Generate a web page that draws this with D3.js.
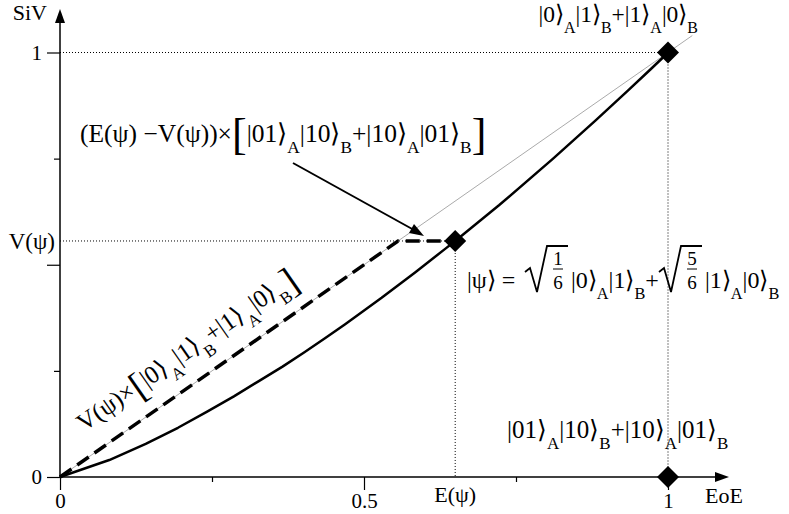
<!DOCTYPE html>
<html><head><meta charset="utf-8">
<script src="https://cdn.jsdelivr.net/npm/d3@7"></script>
<style>html,body{margin:0;padding:0;background:#fff;}svg{display:block;}</style>
</head><body>
<svg id="chart" width="789" height="514"></svg>
<script>
// ---- data ----
const curveX = [0, 0.081, 0.141, 0.194, 0.242, 0.286, 0.327, 0.366, 0.402, 0.437, 0.469, 0.529, 0.584, 0.634, 0.650, 0.722, 0.811, 0.881, 0.934, 0.971, 0.993, 1];
const curveY = [0, 0.040, 0.078, 0.116, 0.154, 0.190, 0.226, 0.260, 0.294, 0.328, 0.360, 0.422, 0.482, 0.538, 0.556, 0.640, 0.750, 0.840, 0.910, 0.960, 0.990, 1];
const stateE = 0.65;
const stateV = 0.556;
const dashedX = [0, stateV, stateE];
const dashedY = [0, stateV, stateV];
const diamondX = [1, stateE, 1];
const diamondY = [1, stateV, 0];
const xMajorTicks = [0, 0.5, 1];
const xMinorTicks = [0.25, 0.75];
const xTickLabels = ["0", "0.5", "1"];
const yMajorTicks = [0, 0.5, 1];
const yMinorTicks = [0.25, 0.75];
const yTickLabels = ["0", "", "1"];

const FONT = "Liberation Serif, Times New Roman, Times, serif";
const svg = d3.select("#chart");
const x = d3.scaleLinear().domain([0, 1]).range([60, 668]);
const y = d3.scaleLinear().domain([0, 1]).range([477, 52.5]);

// diagonal reference line (thin gray)
svg.append("line").attr("x1", x(0)).attr("y1", y(0)).attr("x2", x(1.04)).attr("y2", y(1.04))
  .attr("stroke", "#aaa").attr("stroke-width", 1);

// dotted guide lines
const dot = (x1, y1, x2, y2) => svg.append("line").attr("x1", x1).attr("y1", y1).attr("x2", x2).attr("y2", y2)
  .attr("stroke", "#000").attr("stroke-width", 1).attr("stroke-dasharray", "1,2");
dot(x(0), y(1), x(1), y(1));
dot(x(0), y(stateV), x(stateE), y(stateV));
dot(x(stateE), y(stateV), x(stateE), y(0));
dot(x(1), y(1), x(1), y(0));

// axes
svg.append("g").attr("transform", `translate(0,${y(0)})`)
  .call(d3.axisBottom(x).tickValues(xMajorTicks).tickSize(13).tickPadding(3)
    .tickFormat((d, i) => xTickLabels[i]));
svg.append("g").attr("transform", `translate(0,${y(0)})`)
  .call(d3.axisBottom(x).tickValues(xMinorTicks).tickSize(5).tickFormat(""));
svg.append("g").attr("transform", `translate(${x(0)},0)`)
  .call(d3.axisLeft(y).tickValues(yMajorTicks).tickSize(13).tickPadding(5)
    .tickFormat((d, i) => yTickLabels[i]));
svg.append("g").attr("transform", `translate(${x(0)},0)`)
  .call(d3.axisLeft(y).tickValues(yMinorTicks).tickSize(6).tickFormat(""));
svg.selectAll(".domain").remove();
svg.selectAll(".tick line").attr("stroke", "#000").attr("stroke-width", 1.2);
svg.selectAll("g").attr("font-family", FONT);
svg.selectAll(".tick text").attr("font-family", FONT).attr("font-size", 21).attr("fill", "#000");

// axis lines with arrows
svg.append("line").attr("x1", x(0)).attr("y1", y(0)).attr("x2", 718).attr("y2", y(0)).attr("stroke", "#000").attr("stroke-width", 1.5);
svg.append("path").attr("d", `M729,${y(0)} L715,${y(0) - 5} L715,${y(0) + 5} Z`).attr("fill", "#000");
svg.append("line").attr("x1", x(0)).attr("y1", y(0)).attr("x2", x(0)).attr("y2", 20).attr("stroke", "#000").attr("stroke-width", 1.5);
svg.append("path").attr("d", `M${x(0)},9 L${x(0) - 5},23 L${x(0) + 5},23 Z`).attr("fill", "#000");

// curve
const line = d3.line().x(d => x(d[0])).y(d => y(d[1]));
svg.append("path").datum(curveX.map((v, i) => [v, curveY[i]])).attr("d", line)
  .attr("fill", "none").attr("stroke", "#000").attr("stroke-width", 2.5).attr("stroke-linejoin", "round");
// dashed path
svg.append("path").datum(dashedX.map((v, i) => [v, dashedY[i]])).attr("d", line)
  .attr("fill", "none").attr("stroke", "#000").attr("stroke-width", 3.5).attr("stroke-dasharray", "14,7");

// diamonds
svg.selectAll(".dia").data(diamondX.map((v, i) => [v, diamondY[i]])).enter().append("path")
  .attr("d", d => `M${x(d[0])},${y(d[1]) - 11} L${x(d[0]) + 11},${y(d[1])} L${x(d[0])},${y(d[1]) + 11} L${x(d[0]) - 11},${y(d[1])} Z`)
  .attr("fill", "#000");

// arrow annotation
svg.append("line").attr("x1", 293).attr("y1", 163).attr("x2", 414).attr("y2", 230).attr("stroke", "#000").attr("stroke-width", 2);
svg.append("path").attr("d", "M424,236 L409,233 L414,224 Z").attr("fill", "#000");

// plain labels
const txt = (s, px, py, anchor, size) => svg.append("text").attr("x", px).attr("y", py)
  .attr("text-anchor", anchor || "start").attr("font-family", FONT).attr("font-size", size || 22).text(s);
txt("SiV", 47, 20, "end");
txt("V(ψ)", 55, 249, "end", 23);
txt("E(ψ)", x(stateE), 502, "middle");
txt("EoE", 705, 503, "start");

// rich text with subscripts
function rich(parent, px, py, parts, size, anchor) {
  const t = parent.append("text").attr("x", px).attr("y", py).attr("font-family", FONT).attr("font-size", size)
    .attr("text-anchor", anchor || "start");
  let cur = 0;
  parts.forEach(p => {
    const s = typeof p === "string" ? { t: p } : p;
    const off = s.sub ? 11 : (s.off || 0);
    const ts = t.append("tspan").attr("dy", off - cur).text(s.t);
    if (s.sub) ts.attr("font-size", size * 0.68);
    if (s.size) ts.attr("font-size", s.size);
    cur = off;
  });
  return t;
}
const S = t => ({ t: t, sub: true });
const sz = 25;
rich(svg, 698, 22, ["|0⟩", S("A"), "|1⟩", S("B"), "+|1⟩", S("A"), "|0⟩", S("B")], 23.5, "end");
rich(svg, 507, 438, ["|01⟩", S("A"), "|10⟩", S("B"), "+|10⟩", S("A"), "|01⟩", S("B")], sz);
rich(svg, 80, 142, ["(E(ψ) −V(ψ))×", { t: "[", size: 44, off: 7 }, "|01⟩", S("A"), "|10⟩", S("B"), "+|10⟩", S("A"), "|01⟩", S("B"), { t: "]", size: 44, off: 7 }], 25.5);

// rotated label along diagonal
const ang = -Math.atan((y(0) - y(1)) / (x(1) - x(0))) * 180 / Math.PI;
const rg = svg.append("g").attr("transform", `translate(84,432) rotate(${ang})`);
rich(rg, 0, 0, ["V(ψ)×", { t: "[", size: 38, off: 6 }, "|0⟩", S("A"), "|1⟩", S("B"), "+|1⟩", S("A"), "|0⟩", S("B"), { t: "]", size: 38, off: 6 }], sz);

// state label with square roots
(function () {
  const base = 288;
  const fs = 24;
  rich(svg, 467, base, ["|ψ⟩ ="], fs);
  function sqrtFrac(cx, num, den) {
    svg.append("path").attr("d", `M${cx},${base - 16} L${cx + 5},${base - 20} L${cx + 12},${base + 4} L${cx + 22},${base - 42} L${cx + 43},${base - 42}`)
      .attr("fill", "none").attr("stroke", "#000").attr("stroke-width", 1.8).attr("stroke-linejoin", "miter");
    const fx = cx + 33;
    svg.append("text").attr("x", fx).attr("y", base - 23).attr("text-anchor", "middle").attr("font-family", FONT).attr("font-size", 19).text(num);
    svg.append("line").attr("x1", fx - 5).attr("x2", fx + 5).attr("y1", base - 19).attr("y2", base - 19).attr("stroke", "#000").attr("stroke-width", 1);
    svg.append("text").attr("x", fx).attr("y", base + 1).attr("text-anchor", "middle").attr("font-family", FONT).attr("font-size", 19).text(den);
  }
  sqrtFrac(525, "1", "6");
  rich(svg, 571, base, ["|0⟩", S("A"), "|1⟩", S("B"), "+"], fs);
  sqrtFrac(659, "5", "6");
  rich(svg, 705, base, ["|1⟩", S("A"), "|0⟩", S("B")], fs);
})();
</script>
</body></html>
